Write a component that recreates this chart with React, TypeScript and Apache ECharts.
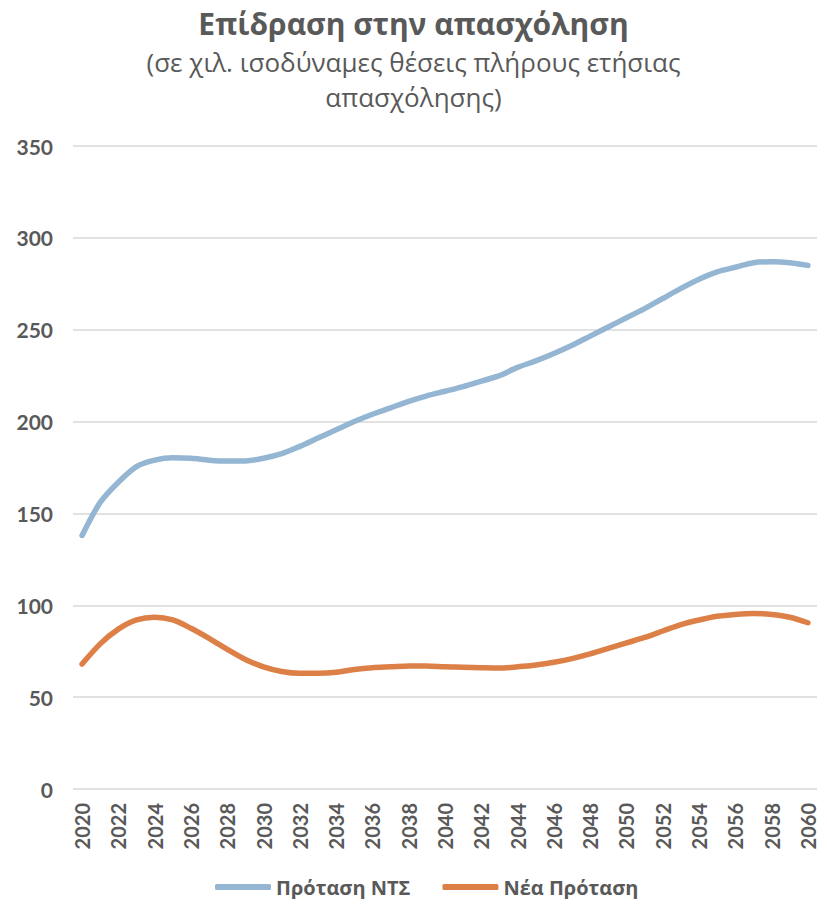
import React, { useEffect, useRef } from "react";
import * as echarts from "echarts";

const years: string[] = [];
for (let y = 2020; y <= 2060; y++) years.push(String(y));

const seriesNames = ["Πρόταση ΝΤΣ", "Νέα Πρόταση"];

const ntsValues = [
  138, 156, 167, 175.5, 179, 180.3, 180, 179, 178.5, 178.6,
  180, 182.5, 186.5, 191, 195.5, 200, 204, 207.5, 211, 214,
  216.5, 219, 222, 225, 229.5, 233, 237, 241.5, 246.5, 251.5,
  256.5, 261.5, 267, 272.5, 277.5, 281.5, 284, 286.5, 287, 286.5,
  285,
];

const newValues = [
  68, 79, 87, 92, 93.5, 92, 87.5, 82, 76, 70.5,
  66.5, 64, 63, 63, 63.5, 65, 66, 66.5, 67, 67,
  66.5, 66.3, 66, 65.8, 66.5, 67.5, 69, 71, 73.5, 76.5,
  79.5, 82.5, 86, 89.5, 92, 94, 95, 95.5, 95, 93.5,
  90.5,
];

const titleText = "Επίδραση στην απασχόληση";
const subtitleLines = ["(σε χιλ. ισοδύναμες θέσεις πλήρους ετήσιας", "απασχόλησης)"];

export default function App() {
  const ref = useRef<HTMLDivElement>(null);
  useEffect(() => {
    if (!ref.current) return;
    const chart = echarts.init(ref.current, undefined, { renderer: "svg" });
    const textColor = "#595959";
    chart.setOption({
      animation: false,
      title: [
        {
          text: titleText,
          left: "center",
          top: 6,
          padding: 0,
          textStyle: { fontFamily: "Open Sans", fontWeight: "bold", fontSize: 30, lineHeight: 34, color: textColor },
        },
        {
          text: subtitleLines[0],
          left: "center",
          top: 47,
          padding: 0,
          textStyle: { fontFamily: "Open Sans", fontWeight: "normal", fontSize: 26, lineHeight: 30, color: textColor },
        },
        {
          text: subtitleLines[1],
          left: "center",
          top: 82,
          padding: 0,
          textStyle: { fontFamily: "Open Sans", fontWeight: "normal", fontSize: 26, lineHeight: 30, color: textColor },
        },
      ],
      legend: {
        bottom: -3,
        left: 202,
        itemWidth: 56,
        itemHeight: 6,
        itemGap: 32,
        icon: "roundRect",
        textStyle: { fontFamily: "Open Sans", fontWeight: "bold", fontSize: 20, color: textColor },
        data: seriesNames,
      },
      grid: { left: 65, right: 2, top: 146, bottom: 110, containLabel: false },
      xAxis: {
        type: "category",
        data: years,
        boundaryGap: true,
        axisLine: { show: false },
        axisTick: { show: false },
        axisLabel: {
          interval: 1,
          rotate: 90,
          margin: 14,
          fontFamily: "Lato",
          fontWeight: "bold",
          fontSize: 20,
          color: textColor,
        },
      },
      yAxis: {
        type: "value",
        min: 0,
        max: 350,
        interval: 50,
        axisLine: { show: false },
        axisTick: { show: false },
        splitLine: { lineStyle: { color: "#D9D9D9", width: 1.5 } },
        axisLabel: {
          margin: 20,
          fontFamily: "Lato",
          fontWeight: "bold",
          fontSize: 21,
          color: textColor,
        },
      },
      series: [
        {
          name: seriesNames[0],
          type: "line",
          data: ntsValues,
          smooth: 0.3,
          showSymbol: false,
          symbol: "none",
          lineStyle: { color: "#94B6D2", width: 5.5, cap: "round" },
          itemStyle: { color: "#94B6D2" },
        },
        {
          name: seriesNames[1],
          type: "line",
          data: newValues,
          smooth: 0.3,
          showSymbol: false,
          symbol: "none",
          lineStyle: { color: "#DD8047", width: 5.5, cap: "round" },
          itemStyle: { color: "#DD8047" },
        },
      ],
    });
    return () => chart.dispose();
  }, []);
  return <div ref={ref} style={{ width: 811, height: 899, marginTop: -8 }} />;
}
